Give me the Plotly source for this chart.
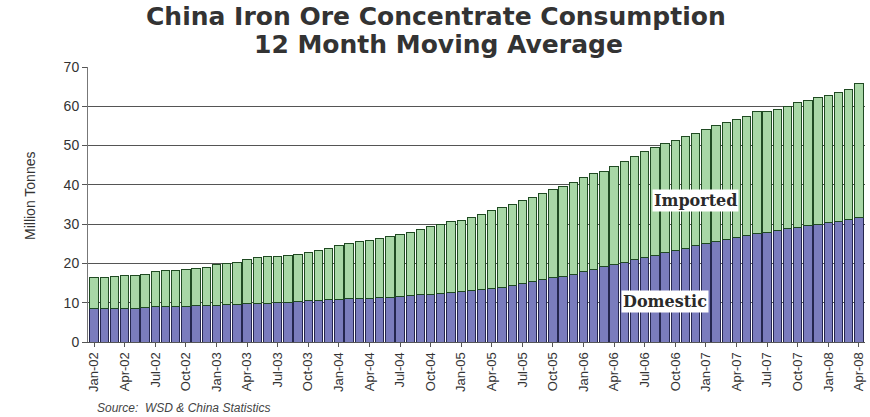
import plotly.graph_objects as go

# Monthly periods, Jan-02 .. Apr-08
years = ["02", "03", "04", "05", "06", "07", "08"]
months = ["Jan", "Feb", "Mar", "Apr", "May", "Jun", "Jul", "Aug", "Sep", "Oct", "Nov", "Dec"]
periods = [f"{m}-{y}" for y in years for m in months][:76]

# 12-month moving average consumption, million tonnes
domestic = [
    8.5, 8.5, 8.5, 8.6, 8.6, 8.7, 9.0, 9.0, 9.1, 9.1, 9.2, 9.2,
    9.4, 9.5, 9.6, 9.7, 9.8, 9.9, 10.0, 10.1, 10.3, 10.5, 10.6, 10.8,
    10.9, 11.0, 11.1, 11.2, 11.3, 11.4, 11.6, 11.8, 12.0, 12.2, 12.4, 12.6,
    12.8, 13.0, 13.3, 13.6, 14.0, 14.4, 14.8, 15.3, 15.8, 16.3, 16.8, 17.3,
    17.9, 18.5, 19.1, 19.7, 20.3, 20.9, 21.5, 22.1, 22.7, 23.3, 23.9, 24.5,
    25.1, 25.6, 26.1, 26.6, 27.1, 27.6, 28.0, 28.4, 28.8, 29.2, 29.6, 30.0,
    30.4, 30.8, 31.2, 31.8,
]
imported = [
    8.0, 7.8, 8.3, 8.3, 8.4, 8.6, 9.0, 9.3, 9.2, 9.4, 9.4, 9.8,
    10.4, 10.4, 10.6, 11.3, 11.6, 11.8, 11.8, 11.9, 12.1, 12.3, 12.7, 13.1,
    13.6, 14.2, 14.5, 14.6, 15.0, 15.5, 15.8, 16.2, 16.6, 17.1, 17.6, 18.0,
    18.2, 18.6, 19.2, 19.8, 20.3, 20.6, 21.1, 21.5, 21.9, 22.4, 22.8, 23.4,
    23.9, 24.3, 24.4, 25.1, 25.7, 26.3, 26.9, 27.3, 27.8, 27.9, 28.4, 28.7,
    28.9, 29.4, 29.8, 30.0, 30.4, 31.0, 30.8, 30.9, 31.2, 31.8, 32.0, 32.3,
    32.4, 32.7, 33.0, 34.0,
]

# Quarterly tick labels
tick_labels = periods[::3]

title_lines = ["China Iron Ore Concentrate Consumption", "12 Month Moving Average"]

W, H = 870, 417
L, R, T, B = 88, 5, 67, 75
plot_w, plot_h = W - L - R, H - T - B


def px_x(p):
    return (p - L) / plot_w


def px_y(p):
    return (H - B - p) / plot_h


fig = go.Figure()
fig.add_trace(go.Bar(
    x=periods, y=domestic, name="Domestic",
    marker=dict(color="#7a7cbd", line=dict(color="#24264f", width=1)),
))
fig.add_trace(go.Bar(
    x=periods, y=imported, name="Imported",
    marker=dict(color="#a8d7a6", line=dict(color="#1f4a22", width=1)),
))

title_font = dict(family="DejaVu Sans, Arial, sans-serif", size=25, color="#333333")
label_font = dict(family="DejaVu Serif, Liberation Serif, serif", size=16, color="#2a2a2a")

fig.update_layout(
    barmode="stack",
    bargap=0.18,
    width=W, height=H,
    margin=dict(l=L, r=R, t=T, b=B),
    paper_bgcolor="white",
    plot_bgcolor="white",
    showlegend=False,
    font=dict(family="Liberation Sans, Arial, sans-serif", color="#333333"),
    xaxis=dict(
        type="category",
        categoryorder="array", categoryarray=periods,
        tickmode="array", tickvals=tick_labels, ticktext=tick_labels,
        tickangle=-90,
        ticks="outside", ticklen=4, tickcolor="#555555",
        tickfont=dict(size=13, color="#333333"),
        showgrid=False,
        showline=True, linecolor="#555555",
        range=[-0.6, 75.6],
    ),
    yaxis=dict(
        range=[0, 70],
        tickvals=[0, 10, 20, 30, 40, 50, 60, 70],
        ticks="outside", ticklen=5, tickcolor="#555555",
        tickfont=dict(size=14, color="#333333"),
        showgrid=True, gridcolor="#555555", gridwidth=1,
        showline=True, linecolor="#777777",
        zeroline=False,
    ),
    annotations=[
        dict(x=px_x(436), y=px_y(17), xref="paper", yref="paper", xanchor="center", yanchor="middle",
             text=f"<b>{title_lines[0]}</b>", showarrow=False, font=title_font),
        dict(x=px_x(438), y=px_y(45), xref="paper", yref="paper", xanchor="center", yanchor="middle",
             text=f"<b>{title_lines[1]}</b>", showarrow=False, font=title_font),
        dict(x=px_x(20), y=px_y(196), xref="paper", yref="paper", textangle=-90,
             text="Million Tonnes", showarrow=False,
             font=dict(size=14, color="#333333")),
        dict(x=periods[59], y=36, xref="x", yref="y", text="<b>Imported</b>",
             showarrow=False, bgcolor="white", font=label_font),
        dict(x=periods[56], y=10.3, xref="x", yref="y", text="<b>Domestic</b>",
             showarrow=False, bgcolor="white", font=label_font),
        dict(x=px_x(95), y=px_y(408), xref="paper", yref="paper",
             text="<i>Source:  WSD &amp; China Statistics</i>",
             showarrow=False, xanchor="left", yanchor="middle",
             font=dict(size=12, color="#444444")),
    ],
)

fig.write_html("out.html")
